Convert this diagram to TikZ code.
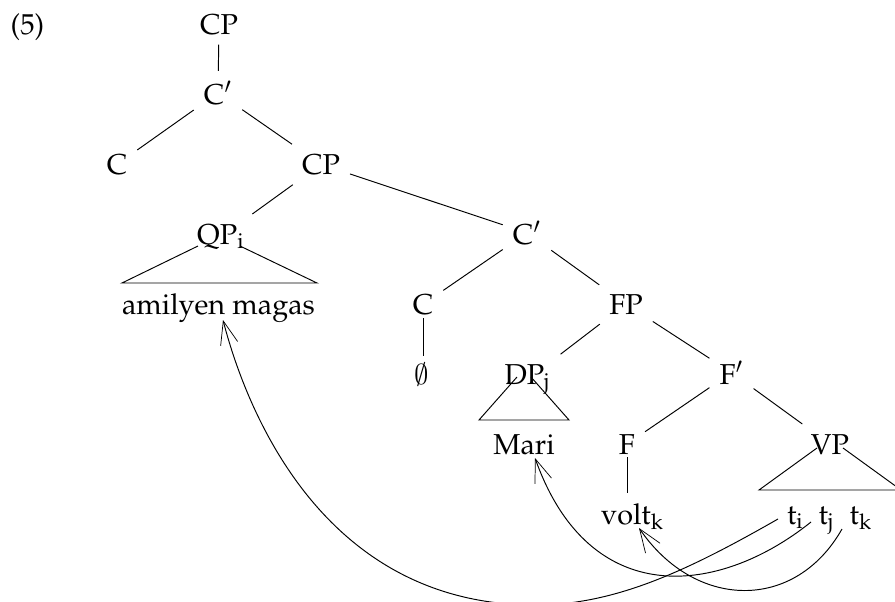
\documentclass[tikz,border=0pt]{standalone}
\usepackage[T1]{fontenc}
\usepackage{mathpazo}
\usetikzlibrary{arrows.meta,calc}
\newcommand{\cmemptyset}{{\usefont{OMS}{cmsy}{m}{n}\symbol{59}}}
\begin{document}
\begin{tikzpicture}[x=0.416667pt, y=-0.416667pt,
  every node/.style={font=\fontsize{12pt}{14.4pt}\selectfont, inner sep=4pt},
  lbl/.style={anchor=base},
  edge/.style={line width=0.4pt},
  roof/.style={line width=0.4pt},
  mv/.style={line width=0.4pt, -{Straight Barb[length=9.75pt,width=7.3pt,line width=0.3pt]}}]
\useasboundingbox (0,0) rectangle (895,602);
% labels / nodes
\node[lbl] (ex) at (27.5,34) {(5)};
\node[lbl] (cp1) at (219,34) {CP};
\node[lbl] (cb1) at (218,104) {C$'$};
\node[lbl] (c1) at (117,174) {C};
\node[lbl] (cp2) at (321,174) {CP};
\node[lbl] (qp) at (221,244) {QP$_{\mathrm{i}}$};
\node[lbl] (am) at (218.5,314) {amilyen magas};
\node[lbl] (cb2) at (527,244) {C$'$};
\node[lbl] (c2) at (423,314) {C};
\node[lbl] (fp) at (626,314) {FP};
\node[lbl] (empty) at (422,384) {\cmemptyset};
\node[lbl] (dp) at (527.5,384) {DP$_{\mathrm{j}}$};
\node[lbl] (fb) at (731.5,384) {F$'$};
\node[lbl] (mari) at (524,454) {Mari};
\node[lbl] (f) at (627,454) {F};
\node[lbl] (vp) at (830,454) {VP};
\node[lbl] (volt) at (632.5,524) {volt$_{\mathrm{k}}$};
\node[lbl] (ti) at (795.5,524) {t$_{\mathrm{i}}$};
\node[lbl] (tj) at (826.5,524) {t$_{\mathrm{j}}$};
\node[lbl] (tk) at (861,524) {t$_{\mathrm{k}}$};
% tree edges
\draw[edge] (cp1) -- (cb1);
\draw[edge] (cb1) -- (c1);
\draw[edge] (cb1) -- (cp2);
\draw[edge] (cp2) -- (qp);
\draw[edge] (cp2) -- (cb2);
\draw[edge] (cb2) -- (c2);
\draw[edge] (cb2) -- (fp);
\draw[edge] ([shift={(0,4)}]c2.base) -- ($(c2.base |- empty.base)+(0,-28)$);
\draw[edge] (fp) -- (dp);
\draw[edge] (fp) -- (fb);
\draw[edge] (fb) -- (f);
\draw[edge] (fb) -- (vp);
\draw[edge] ([shift={(0,3)}]f.base) -- ($(f.base |- volt.base)+(0,-31)$);
% roofs
\coordinate (qpL) at (198,246);
\coordinate (qpBL) at (122,283);
\coordinate (qpBR) at (317,283);
\coordinate (qpR) at (240,246);
\coordinate (dpL) at (517,377);
\coordinate (dpBL) at (479,420);
\coordinate (dpBR) at (569,420);
\coordinate (dpR) at (531,377);
\coordinate (vpL) at (817,448);
\coordinate (vpBL) at (759,490);
\coordinate (vpBR) at (901,490);
\coordinate (vpR) at (843,448);
\draw[roof] (qpL) -- (qpBL) -- (qpBR) -- (qpR);
\draw[roof] (dpL) -- (dpBL) -- (dpBR) -- (dpR);
\draw[roof] (vpL) -- (vpBL) -- (vpBR) -- (vpR);
% movement arrows
\draw[mv] ([shift={(-17.5,-5)}]ti.base) .. controls (687,571) and (615,605) .. (535,605)
  .. controls (320,605) and (245,405) .. ([shift={(4.5,6)}]am.base);
\draw[mv] ([shift={(-15.5,-2)}]tj.base) .. controls (720,595) and (590,612) .. ([shift={(11,4)}]mari.base);
\draw[mv] ([shift={(-19,5)}]tk.base) .. controls (795,612) and (695,610) .. ([shift={(6.5,4)}]volt.base);
\end{tikzpicture}
\end{document}
